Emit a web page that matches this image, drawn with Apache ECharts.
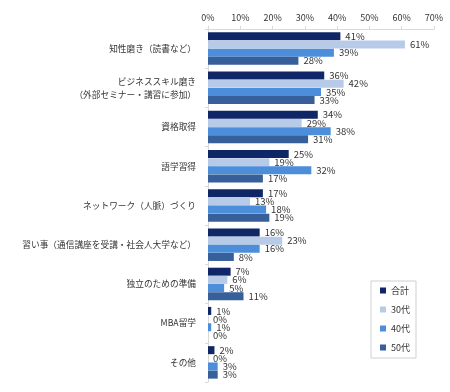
<!DOCTYPE html>
<html><head><meta charset="utf-8">
<script src="https://cdn.jsdelivr.net/npm/echarts@6/dist/echarts.min.js"></script>
<style>html,body{margin:0;padding:0;background:#fff}#c{width:450px;height:392px}</style>
</head><body><div id="c"></div>
<script>
const categories = ['知性磨き（読書など）','ビジネススキル磨き\n（外部セミナー・講習に参加）','資格取得','語学習得','ネットワーク（人脈）づくり','習い事（通信講座を受講・社会人大学など）','独立のための準備','MBA留学','その他'];
const seriesNames = ['合計','30代','40代','50代'];
const total = [41,36,34,25,17,16,7,1,2];
const age30 = [61,42,29,19,13,23,6,0,0];
const age40 = [39,35,38,32,18,16,5,1,3];
const age50 = [28,33,31,17,19,8,11,0,3];
const xTicks = [0,10,20,30,40,50,60,70];
const colors = ['#0f2766','#b7cbe8','#4d8edb','#375f99'];
const font = '"Noto Sans CJK JP", sans-serif';
const chart = echarts.init(document.getElementById('c'));
const data = [total, age30, age40, age50];
chart.setOption({
  animation:false,
  grid:{left:208,right:16,top:29,bottom:10,containLabel:false,outerBoundsMode:'none'},
  legend:{
    orient:'vertical', left:371, top:281,
    itemWidth:6, itemHeight:6, itemGap:10, icon:'rect',
    padding:[5,6,6,9],
    borderColor:'#d0d0d0', borderWidth:1,
    textStyle:{fontSize:9, color:'#333', fontFamily:font},
    data:seriesNames
  },
  xAxis:{type:'value', position:'top', min:xTicks[0], max:xTicks[xTicks.length-1], interval:10,
    axisLabel:{formatter:'{value}%', fontSize:9, color:'#333', fontFamily:font, margin:7},
    axisLine:{show:true, lineStyle:{color:'#d9d9d9'}},
    axisTick:{show:true, length:3, lineStyle:{color:'#d9d9d9'}},
    splitLine:{show:false}},
  yAxis:{type:'category', inverse:true, data:categories,
    axisLabel:{fontSize:8.7, color:'#333', fontFamily:font, margin:12, lineHeight:13},
    axisLine:{show:true, lineStyle:{color:'#d9d9d9'}},
    axisTick:{show:true, length:3, lineStyle:{color:'#d9d9d9'}}},
  series: seriesNames.map((n,i)=>({
    name:n, type:'bar', data:data[i], barWidth:8, barGap:'2%', barCategoryGap:'20%',
    itemStyle:{color:colors[i]},
    label:{show:true, position:'right', formatter:'{c}%', fontSize:9.5, color:'#333', fontFamily:font, distance:5}
  }))
});
</script></body></html>
